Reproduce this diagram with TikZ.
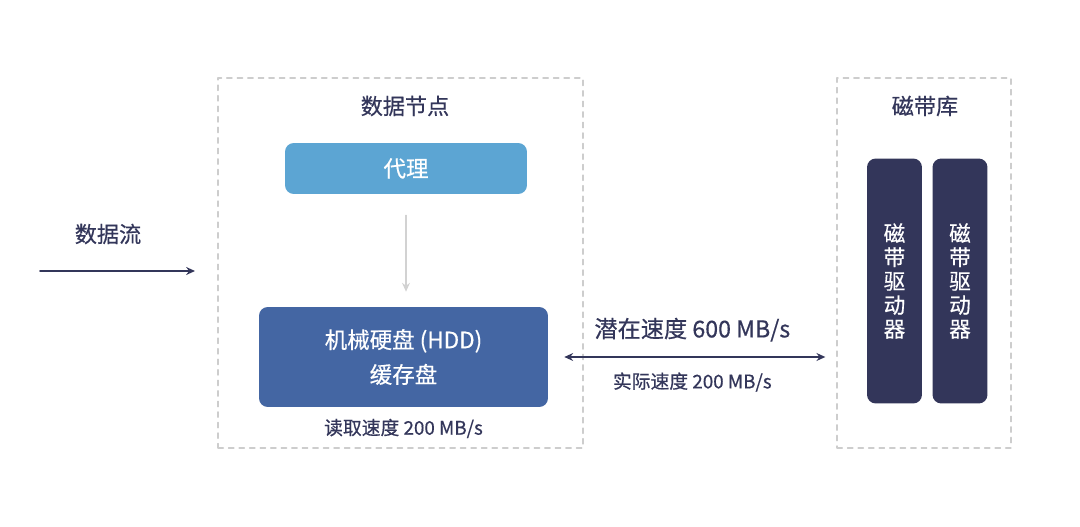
\documentclass[tikz,border=0pt]{standalone}
\usepackage{fontspec}
\setmainfont{Noto Sans CJK SC}[FakeBold=0.5]
\usetikzlibrary{arrows.meta}
\definecolor{navy}{HTML}{33365A}
\definecolor{agentblue}{HTML}{5CA5D3}
\definecolor{diskblue}{HTML}{4466A3}
\definecolor{dashgray}{HTML}{CDCDCD}
\definecolor{arrowgray}{HTML}{D2D2D2}
\tikzset{
  group/.style={draw=dashgray,line width=0.8pt,dash pattern=on 3pt off 3pt,minimum height=7.4cm},
  title/.style={text=navy,font=\fontsize{12.6}{14}\selectfont},
  box/.style={rounded corners=5pt,text=white,align=center,font=\fontsize{12.8}{19.8}\selectfont},
  drive/.style={box,fill=navy,minimum width=1.1cm,minimum height=4.9cm,font=\fontsize{12.3}{13.6}\selectfont},
  small/.style={text=navy,font=\fontsize{10.7}{12}\selectfont},
  flow/.style={navy,line width=0.9pt,-{Stealth[length=5pt,width=4.5pt]}},
}
\begin{document}
\begin{tikzpicture}[line cap=round,line join=round,x=0.02cm,y=-0.02cm]
\useasboundingbox[fill=white] (0,0) rectangle (1080,527);

\node[group,minimum width=7.3cm] (datanode) at (400.5,263) {};
\node[group,minimum width=3.48cm] (tapelib) at (924,263) {};
\node[title] (dntitle) at (405,106) {数据节点};
\node[title] (tltitle) at (925,106) {磁带库};

\node[box,fill=agentblue,minimum width=4.84cm,minimum height=1.02cm] (agent) at (406,168.5) {代理};
\node[box,fill=diskblue,minimum width=5.78cm,minimum height=2cm] (hdd) at (403.5,357) {机械硬盘 (HDD)\\缓存盘};
\node[small,below=3pt] (readspeed) at (hdd.south) {读取速度 200 MB/s};

\node[drive] (drive1) at (894.5,281) {磁\\带\\驱\\动\\器};
\node[drive] (drive2) at (960,281) {磁\\带\\驱\\动\\器};

\draw [arrowgray,line width=0.7pt,-{Stealth[length=5pt,width=4.5pt]},shorten <=0.42cm,shorten >=0.3cm] (agent.south) -- (agent.south |- hdd.north);

% incoming data
\coordinate (flowstart) at (40,271);
\coordinate (flowend) at (195,271);
\node[title] (flowlabel) at (108,234) {数据流};
\draw [flow] (flowstart) -- (flowend);

% link to the tape library
\draw [flow,{Stealth[length=5pt,width=4.5pt]}-{Stealth[length=5pt,width=4.5pt]},shorten <=0.32cm,shorten >=0.22cm] (hdd.east) -- (tapelib.west |- hdd.east)
  node[pos=0.5,above=5pt,title,font=\fontsize{13.2}{15}\selectfont] (maxspeed) {潜在速度 600 MB/s}
  node[pos=0.5,below=5pt,small] (realspeed) {实际速度 200 MB/s};
\end{tikzpicture}
\end{document}
